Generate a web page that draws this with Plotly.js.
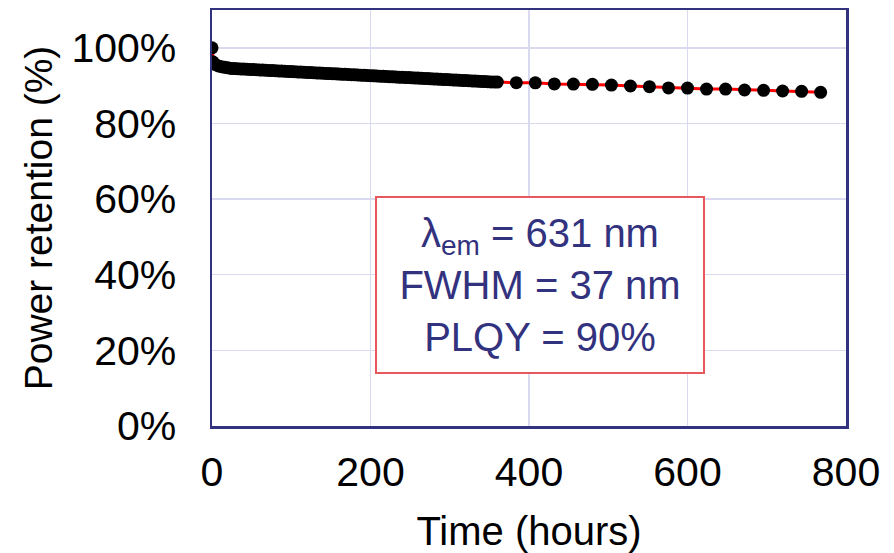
<!DOCTYPE html>
<html>
<head>
<meta charset="utf-8">
<script src="https://cdn.plot.ly/plotly-3.0.1.min.js"></script>
<style>html,body{margin:0;padding:0;background:#fff;}#chart{width:894px;height:553px;}</style>
</head>
<body>
<div id="chart"></div>
<script>
// Time (hours)
const hours = [0, 1, 2, 4, 8, 12, 16, 20, 24, 28, 32, 36, 40, 44, 48, 52, 56, 60, 64, 68, 72, 76, 80, 84, 88, 92, 96, 100,
  104, 108, 112, 116, 120, 124, 128, 132, 136, 140, 144, 148, 152, 156, 160, 164, 168, 172, 176, 180, 184, 188, 192, 196, 200,
  204, 208, 212, 216, 220, 224, 228, 232, 236, 240, 244, 248, 252, 256, 260, 264, 268, 272, 276, 280, 284, 288, 292, 296, 300,
  304, 308, 312, 316, 320, 324, 328, 332, 336, 340, 344, 348, 352, 356, 360,
  384, 408, 432, 456, 480, 504, 528, 552, 576, 600, 624, 648, 672, 696, 720, 744, 768];
// Power retention (%)
const retention = [100, 96.3, 95.9, 95.6, 95.2, 95.0, 94.85, 94.7, 94.55, 94.5, 94.46, 94.41, 94.37, 94.33, 94.28, 94.24, 94.2, 94.15, 94.11, 94.07, 94.02, 93.98, 93.94, 93.89, 93.85, 93.81, 93.76, 93.72,
  93.68, 93.63, 93.59, 93.55, 93.5, 93.46, 93.42, 93.37, 93.33, 93.29, 93.24, 93.2, 93.16, 93.11, 93.07, 93.03, 92.98, 92.94, 92.9, 92.85, 92.81, 92.77, 92.72, 92.68, 92.64,
  92.59, 92.55, 92.51, 92.46, 92.42, 92.38, 92.33, 92.29, 92.25, 92.2, 92.16, 92.12, 92.07, 92.03, 91.99, 91.94, 91.9, 91.86, 91.81, 91.77, 91.73, 91.68, 91.64, 91.6, 91.55,
  91.51, 91.47, 91.42, 91.38, 91.34, 91.29, 91.25, 91.21, 91.16, 91.12, 91.08, 91.03, 90.99, 90.96, 90.93,
  90.78, 90.75, 90.45, 90.42, 90.34, 90.16, 89.9, 89.72, 89.4, 89.35, 89.1, 89.08, 88.84, 88.75, 88.58, 88.49, 88.22];

const xTicks = [0, 200, 400, 600, 800];
const yTicks = [0, 0.2, 0.4, 0.6, 0.8, 1.0];
const xTitle = 'Time (hours)';
const yTitle = 'Power retention (%)';
const boxLines = ['λ<sub>em</sub> = 631 nm', 'FWHM = 37 nm', 'PLQY = 90%'];

const FONT = '"Liberation Sans", Arial, sans-serif';
const navy = '#32327e';

const trace = {
  x: hours,
  y: retention.map(v => v / 100),
  mode: 'lines+markers',
  line: {color: '#ff0000', width: 3},
  marker: {color: '#000000', size: 13},
  showlegend: false,
  hoverinfo: 'x+y'
};

const layout = {
  width: 894, height: 553,
  margin: {l: 212, r: 48, t: 10, b: 127, pad: 0},
  paper_bgcolor: '#ffffff', plot_bgcolor: '#ffffff',
  font: {family: FONT, size: 39, color: '#000000'},
  xaxis: {
    range: [0, 800], tickvals: xTicks, ticktext: xTicks.map(String),
    showgrid: true, gridcolor: '#d9d9f0', gridwidth: 1.5,
    showline: true, mirror: true, linecolor: navy, linewidth: 2.5,
    zeroline: false, ticks: '', ticklabelstandoff: 8,
    tickfont: {family: FONT, size: 41, color: '#000'},
    title: {text: xTitle, font: {family: FONT, size: 40, color: '#000'}, standoff: 41}
  },
  yaxis: {
    range: [0, 1.1], tickvals: yTicks, tickformat: '.0%',
    showgrid: true, gridcolor: '#d9d9f0', gridwidth: 1.5,
    showline: true, mirror: true, linecolor: navy, linewidth: 2.5,
    zeroline: false, ticks: '', ticklabelstandoff: 25,
    tickfont: {family: FONT, size: 41, color: '#000'},
    title: {text: yTitle, font: {family: FONT, size: 39, color: '#000'}, standoff: 7}
  },
  annotations: [{
    x: 414, y: 0.374, xref: 'x', yref: 'y',
    text: boxLines.join('<br>'),
    showarrow: false,
    font: {family: FONT, size: 40, color: navy},
    align: 'center',
    bordercolor: '#e8575d', borderwidth: 2, borderpad: 4,
    bgcolor: '#ffffff',
    width: 318, height: 166
  }]
};

Plotly.newPlot('chart', [trace], layout, {staticPlot: true, displayModeBar: false});
</script>
</body>
</html>
